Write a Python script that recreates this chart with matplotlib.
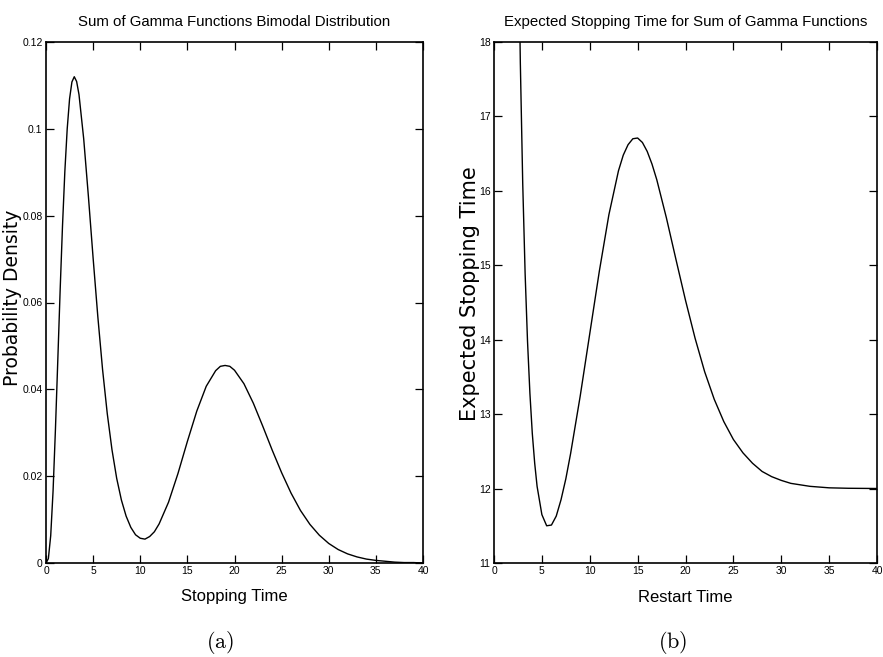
import matplotlib
matplotlib.use("Agg")
import matplotlib.pyplot as plt

# (a) bimodal density
stopTime = [0, 0.25, 0.5, 0.75, 1, 1.25, 1.5, 1.75, 2, 2.25, 2.5, 2.75, 3, 3.25, 3.5,
            4, 4.5, 5, 5.5, 6, 6.5, 7, 7.5, 8, 8.5, 9, 9.5, 10, 10.5, 11, 11.5, 12,
            13, 14, 15, 16, 17, 18, 18.5, 19, 19.5, 20, 21, 22, 23, 24, 25, 26, 27,
            28, 29, 30, 31, 32, 33, 34, 35, 36, 37, 38, 39, 40]
density = [0, 0.0010, 0.0063, 0.0166, 0.0307, 0.0466, 0.0628, 0.0776, 0.0902, 0.1000,
           0.1069, 0.1108, 0.1120, 0.1109, 0.1079, 0.0977, 0.0844, 0.0702, 0.0567,
           0.0446, 0.0344, 0.0261, 0.0195, 0.0145, 0.0108, 0.0082, 0.0065, 0.0057,
           0.0055, 0.0061, 0.0072, 0.0090, 0.0140, 0.0206, 0.0280, 0.0350, 0.0407,
           0.0443, 0.0453, 0.0455, 0.0453, 0.0444, 0.0413, 0.0368, 0.0315, 0.0260,
           0.0208, 0.0161, 0.0121, 0.0089, 0.0064, 0.0045, 0.0031, 0.0021, 0.0014,
           0.0009, 0.0006, 0.0004, 0.0002, 0.0001, 0.0001, 0.0000]

# (b) expected stopping time vs restart time
restartTime = [2.5, 2.75, 3, 3.25, 3.5, 3.75, 4, 4.25, 4.5, 5, 5.5, 6, 6.5, 7, 7.5, 8,
               9, 10, 11, 12, 13, 13.5, 14, 14.5, 15, 15.5, 16, 16.5, 17, 18, 19, 20,
               21, 22, 23, 24, 25, 26, 27, 28, 29, 30, 31, 32, 33, 34, 35, 36, 37, 38,
               39, 40]
expTime = [19.92, 17.72, 16.10, 14.89, 13.98, 13.28, 12.74, 12.34, 12.03, 11.65, 11.50,
           11.51, 11.63, 11.85, 12.13, 12.47, 13.24, 14.08, 14.92, 15.68, 16.27, 16.48,
           16.62, 16.70, 16.71, 16.65, 16.53, 16.36, 16.15, 15.64, 15.08, 14.53, 14.02,
           13.57, 13.20, 12.90, 12.66, 12.48, 12.34, 12.23, 12.16, 12.11, 12.07, 12.05,
           12.03, 12.02, 12.01, 12.007, 12.004, 12.003, 12.002, 12.001]

xticks = [0, 5, 10, 15, 20, 25, 30, 35, 40]
yticksA = [0, 0.02, 0.04, 0.06, 0.08, 0.1, 0.12]
yticklabelsA = ["0", "0.02", "0.04", "0.06", "0.08", "0.1", "0.12"]
yticksB = [11, 12, 13, 14, 15, 16, 17, 18]

narrow = ["Liberation Sans", "DejaVu Sans"]
plt.rcParams["mathtext.fontset"] = "cm"

W, H = 883, 657
fig = plt.figure(figsize=(W / 100, H / 100), dpi=100)

def px(x, y):
    return x / W, 1 - y / H

axA = fig.add_axes([46 / W, 1 - 563 / H, 377 / W, 521 / H])
axB = fig.add_axes([494 / W, 1 - 563 / H, 383 / W, 521 / H])

axA.plot(stopTime, density, color="black", lw=1.0)
axA.set_xlim(0, 40)
axA.set_ylim(0, 0.12)
axA.set_yticks(yticksA)
axA.set_yticklabels(yticklabelsA)

axB.plot(restartTime, expTime, color="black", lw=1.0)
axB.set_xlim(0, 40)
axB.set_ylim(11, 18)
axB.set_yticks(yticksB)

for ax in (axA, axB):
    ax.set_xticks(xticks)
    ax.tick_params(direction="in", top=True, right=True, length=5.5, width=0.9,
                   labelsize=7.5, pad=2.5)
    for lab in ax.get_xticklabels() + ax.get_yticklabels():
        lab.set_family(narrow)
    for sp in ax.spines.values():
        sp.set_linewidth(1.2)

# titles
fig.text(*px(234.5, 22), "Sum of Gamma Functions Bimodal Distribution",
         ha="center", va="center", fontsize=10.8, family=narrow)
fig.text(*px(685.5, 22), "Expected Stopping Time for Sum of Gamma Functions",
         ha="center", va="center", fontsize=10.8, family=narrow)

# axis labels
fig.text(*px(234.5, 597), "Stopping Time", ha="center", va="center",
         fontsize=12, family=narrow)
fig.text(*px(685.5, 597), "Restart Time", ha="center", va="center",
         fontsize=12, family=narrow)
fig.text(*px(13, 298), "Probability Density", ha="center", va="center",
         rotation=90, fontsize=13.5, family="DejaVu Sans")
fig.text(*px(470, 294), "Expected Stopping Time", ha="center", va="center",
         rotation=90, fontsize=15, family="DejaVu Sans")

# panel captions
fig.text(*px(220, 642), r"$\mathrm{(a)}$", ha="center", va="center", fontsize=16)
fig.text(*px(673, 642), r"$\mathrm{(b)}$", ha="center", va="center", fontsize=16)

fig.savefig("out.png", dpi=100)
